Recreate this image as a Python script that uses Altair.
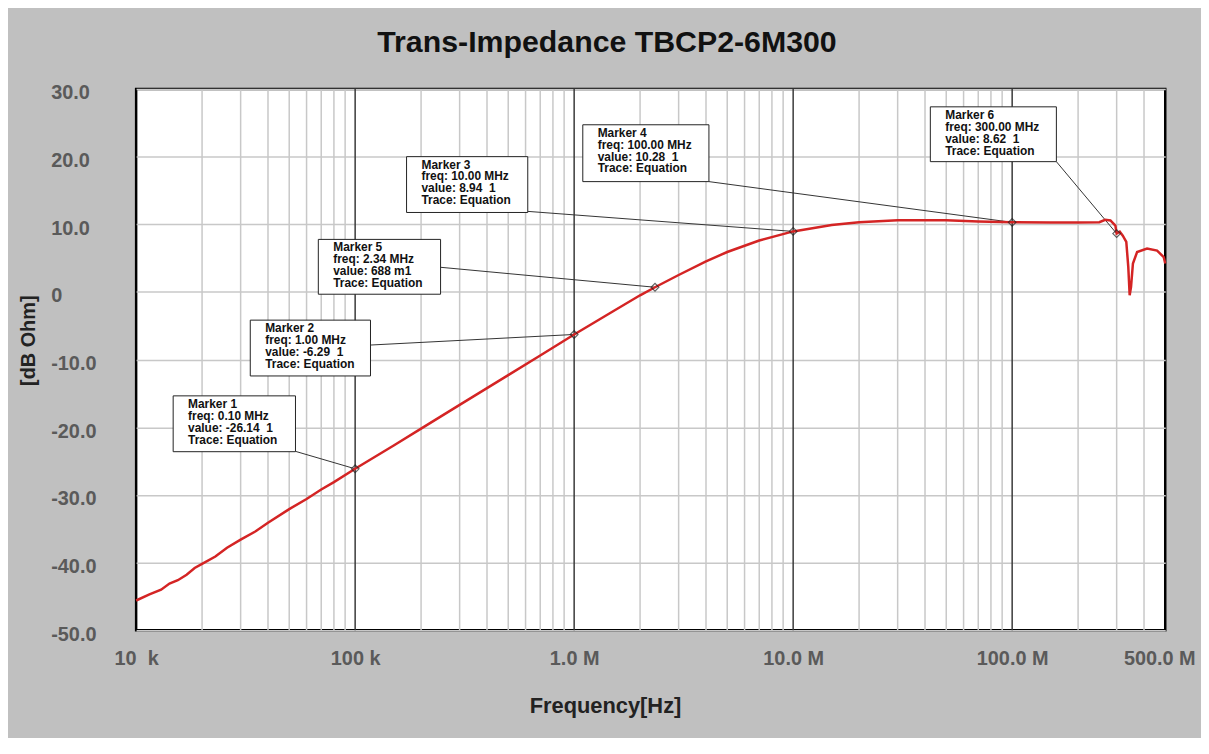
import altair as alt
import pandas as pd

# ---------------- data ----------------
freq_hz = [1.0e4, 1.15e4, 1.3e4, 1.42e4, 1.55e4, 1.7e4, 1.85e4, 2.0e4, 2.3e4, 2.6e4,
           3.0e4, 3.5e4, 4.0e4, 5.0e4, 6.0e4, 7.0e4, 8.0e4, 1.0e5, 1.5e5, 2.0e5,
           3.0e5, 5.0e5, 7.0e5, 1.0e6, 1.5e6, 2.0e6, 2.34e6, 3.0e6, 4.0e6, 5.0e6,
           7.0e6, 1.0e7, 1.5e7, 2.0e7, 3.0e7, 5.0e7, 7.0e7, 1.0e8, 1.5e8, 2.0e8,
           2.5e8, 2.66e8, 2.81e8, 2.96e8, 3.0e8, 3.1e8, 3.2e8, 3.32e8, 3.39e8, 3.44e8,
           3.49e8, 3.56e8, 3.72e8, 4.13e8, 4.59e8, 4.92e8, 5.0e8]
db_ohm = [-45.6, -44.7, -44.0, -43.1, -42.6, -41.8, -40.8, -40.2, -39.1, -37.8,
          -36.6, -35.4, -34.1, -32.1, -30.6, -29.2, -28.1, -26.14, -22.7, -20.2,
          -16.7, -12.3, -9.4, -6.29, -2.9, -0.5, 0.688, 2.5, 4.5, 5.9,
          7.6, 8.94, 9.9, 10.3, 10.6, 10.6, 10.4, 10.28, 10.27, 10.27,
          10.3, 10.66, 10.56, 9.8, 8.62, 8.9, 8.3, 7.4, 3.7, -0.5,
          0.74, 4.2, 5.9, 6.4, 6.1, 5.15, 4.2]

marker_names = ["Marker 1", "Marker 2", "Marker 3", "Marker 4", "Marker 5", "Marker 6"]
marker_freq = [1.0e5, 1.0e6, 1.0e7, 1.0e8, 2.34e6, 3.0e8]
marker_value = [-26.14, -6.29, 8.94, 10.28, 0.688, 8.62]
marker_freq_text = ["0.10 MHz", "1.00 MHz", "10.00 MHz", "100.00 MHz", "2.34 MHz", "300.00 MHz"]
marker_value_text = ["-26.14\u00a0\u00a01", "-6.29\u00a0\u00a01", "8.94\u00a0\u00a01",
                     "10.28\u00a0\u00a01", "688 m1", "8.62\u00a0\u00a01"]

# callout boxes (data coordinates): left freq, right freq, top dB, bottom dB
box_left = [1.476e4, 3.32e4, 1.717e5, 1.095e6, 6.79e4, 4.23e7]
box_right = [5.34e4, 1.175e5, 6.14e5, 4.125e6, 2.455e5, 1.592e8]
box_top = [-15.36, -4.17, 19.99, 24.7, 7.76, 27.35]
box_bottom = [-23.61, -12.42, 11.74, 16.3, -0.34, 19.25]
# leader start points on the box
lead_f = [5.34e4, 1.175e5, 6.14e5, 4.125e6, 2.455e5, 1.592e8]
lead_db = [-23.56, -7.85, 11.9, 16.3, 3.64, 19.25]

x_tick_values = [1e4, 1e5, 1e6, 1e7, 1e8, 5e8]
x_tick_labels = ["10\u00a0\u00a0k", "100 k", "1.0 M", "10.0 M", "100.0 M", "500.0 M"]
y_tick_values = [-50, -40, -30, -20, -10, 0, 10, 20, 30]
y_tick_labels = ["-50.0", "-40.0", "-30.0", "-20.0", "-10.0", "0", "10.0", "20.0", "30.0"]

minor_grid = [m * 10 ** e for e in range(4, 9) for m in range(2, 10) if m * 10 ** e < 5e8]
major_grid = [1e5, 1e6, 1e7, 1e8]

# ---------------- tables ----------------
curve = pd.DataFrame({"f": freq_hz, "db": db_ohm})
markers = pd.DataFrame({"f": marker_freq, "db": marker_value})
boxes = pd.DataFrame({
    "l": box_left, "r": box_right, "t": box_top, "b": box_bottom,
    "lf": lead_f, "ldb": lead_db, "mf": marker_freq, "mdb": marker_value,
    "txt": [f"{n}\nfreq: {fq}\nvalue: {v}\nTrace: Equation"
            for n, fq, v in zip(marker_names, marker_freq_text, marker_value_text)],
})
minor_df = pd.DataFrame({"f": minor_grid})
major_df = pd.DataFrame({"f": major_grid})

FONT = "Liberation Sans"

x_label_expr = "[" + ",".join(f"'{s}'" for s in x_tick_labels) + "][indexof([" + \
    ",".join(str(int(v)) for v in x_tick_values) + "], datum.value)]"
y_label_expr = "[" + ",".join(f"'{s}'" for s in y_tick_labels) + "][indexof([" + \
    ",".join(str(v) for v in y_tick_values) + "], datum.value)]"

xscale = alt.Scale(type="log", domain=[1e4, 5e8], nice=False)
yscale = alt.Scale(domain=[-50, 30], nice=False)

x_axis = alt.Axis(values=x_tick_values, labelExpr=x_label_expr, grid=False, ticks=False,
                  domain=False, labelFont=FONT, labelFontSize=20, labelFontWeight="bold",
                  labelColor="#5a5a5a", labelPadding=34, labelBaseline="alphabetic",
                  labelFlush=False, labelOverlap=False,
                  labelOffset={"condition": {"test": "datum.value >= 500000000", "value": -6},
                               "value": 0},
                  title="Frequency[Hz]", titleFont=FONT, titleFontSize=22,
                  titleFontWeight="bold", titleColor="#222222", titleX=472, titleY=83,
                  titleBaseline="alphabetic", titleAlign="center")
y_axis = alt.Axis(values=y_tick_values, labelExpr=y_label_expr, grid=True,
                  gridColor="#c8c8c8", gridWidth=1.5, ticks=False, domain=False,
                  labelFont=FONT, labelFontSize=20, labelFontWeight="bold",
                  labelColor="#5a5a5a", labelAlign="left", labelPadding=86,
                  labelBaseline="middle", labelOffset=4, labelFlush=False,
                  labelOverlap=False,
                  title="[dB Ohm]", titleFont=FONT, titleFontSize=20,
                  titleFontWeight="bold", titleColor="#222222", titleX=-108,
                  titleY=253, titleAngle=270, titleBaseline="middle", titleAlign="center")

base_x = alt.X("f:Q", scale=xscale, axis=x_axis)

line = alt.Chart(curve).mark_line(color="#d42424", strokeWidth=2.5).encode(
    x=base_x, y=alt.Y("db:Q", scale=yscale, axis=y_axis))

minor = alt.Chart(minor_df).mark_rule(color="#c8c8c8", strokeWidth=1.5).encode(
    x=alt.X("f:Q", scale=xscale))
major = alt.Chart(major_df).mark_rule(color="#3a3a3a", strokeWidth=1.5).encode(
    x=alt.X("f:Q", scale=xscale))

leaders = alt.Chart(boxes).mark_rule(color="#333333", strokeWidth=1).encode(
    x=alt.X("lf:Q", scale=xscale), x2="mf:Q",
    y=alt.Y("ldb:Q", scale=yscale), y2="mdb:Q")

rects = alt.Chart(boxes).mark_rect(fill="white", stroke="#222222", strokeWidth=1).encode(
    x=alt.X("l:Q", scale=xscale), x2="r:Q",
    y=alt.Y("t:Q", scale=yscale), y2="b:Q")

texts = alt.Chart(boxes).mark_text(align="left", baseline="top", dx=15, dy=3,
                                   lineBreak="\n", lineHeight=12, font=FONT,
                                   fontSize=12, fontWeight="bold", color="#111111").encode(
    x=alt.X("l:Q", scale=xscale), y=alt.Y("t:Q", scale=yscale), text="txt:N")

pts = alt.Chart(markers).mark_point(shape="diamond", size=60, filled=False,
                                    color="#222222", strokeWidth=1.2).encode(
    x=alt.X("f:Q", scale=xscale), y=alt.Y("db:Q", scale=yscale))

chart = alt.layer(minor, major, leaders, line, rects, texts, pts).properties(
    width=1036, height=545,
    title=alt.TitleParams("Trans-Impedance TBCP2-6M300", font=FONT, fontSize=30.5,
                          fontWeight="bold", color="#111111", anchor="middle",
                          dx=-44, offset=25),
    padding={"left": 129, "top": 79, "right": 36, "bottom": 106},
    autosize=alt.AutoSizeParams(type="none"),
).configure(background="#c0c0c0").configure_view(
    fill="white", stroke="#000000", strokeWidth=2.5)

chart.save("out.html", embed_options={"renderer": "svg", "actions": False})
